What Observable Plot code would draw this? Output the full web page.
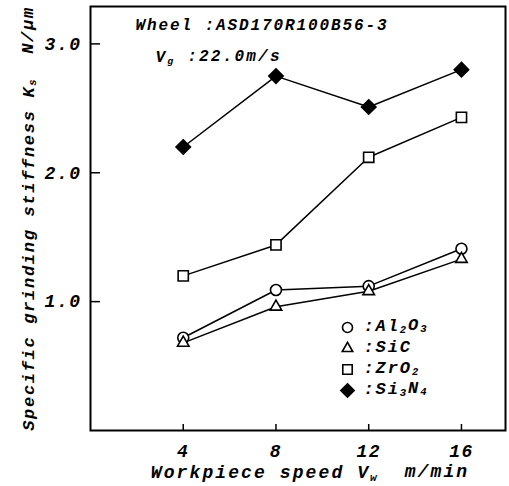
<!DOCTYPE html>
<html><head><meta charset="utf-8">
<script src="https://cdn.jsdelivr.net/npm/d3@7"></script>
<script src="https://cdn.jsdelivr.net/npm/@observablehq/plot@0.6"></script>
<style>body{margin:0;background:#fff} svg{display:block;background:#fff}</style>
</head><body><div id="chart"></div>
<script>
// ---- data ----
const speeds = [4, 8, 12, 16];
const seriesNames = ["Al2O3", "SiC", "ZrO2", "Si3N4"];
const legendLabels = [":Al_2O_3", ":SiC", ":ZrO_2", ":Si_3N_4"];
const al2o3 = [0.72, 1.09, 1.12, 1.41];
const sic   = [0.68, 0.96, 1.08, 1.33];
const zro2  = [1.20, 1.44, 2.12, 2.43];
const si3n4 = [2.20, 2.75, 2.51, 2.80];
const xTicks = [4, 8, 12, 16];
const yTicks = [1.0, 2.0, 3.0];
const xTitle = "Workpiece speed V_w  m/min";
const yTitle = "Specific grinding stiffness K_s  N/\u03bcm";
const note1 = "Wheel :ASD170R100B56-3";
const note2 = "V_g :22.0m/s";

// ---- styles ----
const seriesValues = [al2o3, sic, zro2, si3n4];
const symbolOf = {Al2O3: "circle", SiC: "triangle2", ZrO2: "square2", Si3N4: "diamond2"};
const fillOf = {Al2O3: "white", SiC: "white", ZrO2: "white", Si3N4: "black"};
const rOf = {Al2O3: 5.5, SiC: 5.5, ZrO2: 6.5, Si3N4: 6.5};

const rows = seriesNames.flatMap((s, i) => speeds.map((x, j) => ({series: s, x, y: seriesValues[i][j]})));

const monoFont = {fontFamily: "Liberation Mono", fontWeight: "bold", fontStyle: "italic"};

const marks = [
  Plot.frame({stroke: "black", strokeWidth: 2}),
  Plot.line(rows, {x: "x", y: "y", z: "series", stroke: "black", strokeWidth: 1.5}),
  ...seriesNames.map(s => Plot.dot(rows.filter(d => d.series === s), {
    x: "x", y: "y", symbol: () => symbolOf[s], r: rOf[s],
    fill: fillOf[s], stroke: "black", strokeWidth: 1.6
  })),
  Plot.axisX(xTicks, {tickSize: -6, tickPadding: 20, strokeWidth: 1.5, fontSize: 18, ...monoFont, label: null}),
  Plot.axisY(yTicks, {tickSize: -10, tickPadding: 19, strokeWidth: 1.5, fontSize: 18, ...monoFont, tickFormat: d3.format(".1f"), label: null}),
  Plot.text([xTitle], {frameAnchor: "bottom", lineAnchor: "middle", textAnchor: "middle", dx: 12, dy: 42, text: d => d, fontSize: 18, ...monoFont, fill: "black"}),
  Plot.text([yTitle], {frameAnchor: "left", lineAnchor: "middle", textAnchor: "middle", dx: -62, dy: 0, rotate: -90, text: d => d, fontSize: 17, ...monoFont, fill: "black"}),
  Plot.text([note1], {frameAnchor: "top-left", dx: 45, dy: 12, textAnchor: "start", text: d => d, fontSize: 16, ...monoFont, fill: "black"}),
  Plot.text([note2], {frameAnchor: "top-left", dx: 65, dy: 44, textAnchor: "start", text: d => d, fontSize: 16, ...monoFont, fill: "black"}),
  ...seriesNames.map((s, i) => Plot.dot([s], {
    frameAnchor: "top-left", dx: 257, dy: 321 + i * 21, symbol: () => symbolOf[s], r: rOf[s] - 0.5,
    fill: fillOf[s], stroke: "black", strokeWidth: 1.6
  })),
  ...legendLabels.map((t, i) => Plot.text([t], {
    frameAnchor: "top-left", lineAnchor: "middle", dx: 273, dy: 319 + i * 21, textAnchor: "start", text: d => d,
    fontSize: 17, ...monoFont, fill: "black"
  }))
];

const chart = Plot.plot({
  width: 509, height: 486,
  marginTop: 6, marginBottom: 56, marginLeft: 90, marginRight: 4,
  x: {domain: [0, 17.9]},
  y: {domain: [0, 3.29]},
  style: {background: "white", color: "black", overflow: "visible"},
  marks
});

// letter spacing by text content (Plot text has no letterSpacing option)
const spacing = new Map([
  [xTitle, 2.1], [yTitle, 1.7], [note1, 1.9], [note2, 2.2],
  ...legendLabels.map(t => [t, 1.9])
]);
d3.select(chart).selectAll("text").each(function () {
  const s = spacing.get(this.textContent);
  if (s != null) this.setAttribute("letter-spacing", s);
});
d3.select(chart).selectAll('g[aria-label$="tick label"] text').attr("letter-spacing", 1.5);

// subscripts: "_x" -> subscript tspan
d3.select(chart).selectAll("text").each(function () {
  const el = this;
  if (el.querySelector("tspan")) return;
  const txt = el.textContent;
  if (!txt.includes("_")) return;
  el.textContent = "";
  const parts = txt.split(/_(.)/);
  parts.forEach((p, k) => {
    if (p === "") return;
    const isSub = k % 2 === 1;
    const ts = d3.select(el).append("tspan").text(p);
    if (isSub) ts.attr("font-size", "0.62em").attr("dy", "0.22em");
    else if (k > 0) ts.attr("dy", "-0.22em");
  });
});

document.getElementById("chart").appendChild(chart);
</script>
</body></html>
